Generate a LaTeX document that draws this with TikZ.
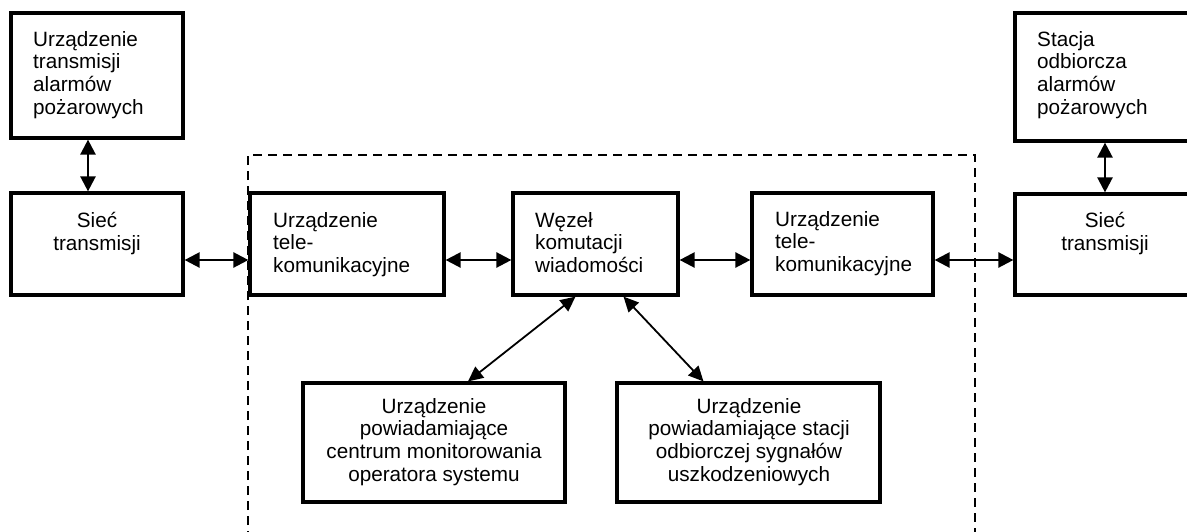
\documentclass[tikz,border=0pt]{standalone}
\usepackage{fontspec}
\setmainfont{Liberation Sans}
\usetikzlibrary{arrows.meta}
\begin{document}
\begin{tikzpicture}[x=1pt,y=-1pt,
  box/.style={draw, line width=3.2pt, inner sep=0pt},
  txt/.style={inner sep=0pt, font=\fontsize{20.7}{22.7}\selectfont},
  ltxt/.style={txt, anchor=north west, align=left},
  ctxt/.style={txt, anchor=north, align=center},
  arr/.style={line width=2.4pt, {Triangle[length=15pt,width=15pt]}-{Triangle[length=15pt,width=15pt]}},
  darr/.style={line width=1.8pt, {Triangle[length=15pt,width=14pt]}-{Triangle[length=15pt,width=14pt]}},
  frame/.style={line width=2pt, dash pattern=on 9pt off 6pt}]
\useasboundingbox (0,0) rectangle (1187,531);
\clip (0,0) rectangle (1187,531);

% boxes
\node[box, minimum width=172pt, minimum height=125pt] (A)  at (97,75.5) {};
\node[box, minimum width=172pt, minimum height=102pt] (SL) at (97,244) {};
\node[box, minimum width=194pt, minimum height=102pt] (T1) at (347,244) {};
\node[box, minimum width=165pt, minimum height=102pt] (W)  at (595.5,244) {};
\node[box, minimum width=181pt, minimum height=102pt] (T2) at (842.5,244) {};
\node[box, minimum width=182pt, minimum height=101pt] (SR) at (1106,244.5) {};
\node[box, minimum width=182pt, minimum height=128pt] (S)  at (1106,77) {};
\node[box, minimum width=262pt, minimum height=119pt] (B1) at (434,442.5) {};
\node[box, minimum width=263pt, minimum height=119pt] (B2) at (748.5,442.5) {};

% dashed frame
\draw[frame] (248,540) -- (248,155) -- (975,155) -- (975,540);

% texts
\node[ltxt] (tA)  at (33,31)   {Urządzenie\\transmisji\\alarmów\\pożarowych};
\node[ctxt] (tSL) at (97,212)  {Sieć\\transmisji};
\node[ltxt] (tT1) at (273,212) {Urządzenie\\tele-\\komunikacyjne};
\node[ltxt] (tW)  at (535,212) {Węzeł\\komutacji\\wiadomości};
\node[ltxt] (tT2) at (775,211) {Urządzenie\\tele-\\komunikacyjne};
\node[ltxt] (tS)  at (1037,31) {Stacja\\odbiorcza\\alarmów\\pożarowych};
\node[ctxt] (tSR) at (1105,212) {Sieć\\transmisji};
\node[ctxt] (tB1) at (434,398) {Urządzenie\\powiadamiające\\centrum monitorowania\\operatora systemu};
\node[ctxt] (tB2) at (749,398) {Urządzenie\\powiadamiające stacji\\odbiorczej sygnałów\\uszkodzeniowych};

% connectors
\draw[arr] ([xshift=-9pt]A.south) -- ([xshift=-9pt]SL.north);
\draw[arr] ([xshift=-1pt]S.south) -- ([xshift=-1pt]SR.north);
\draw[arr] ([yshift=-16pt]SL.east) -- ([yshift=-16pt]T1.west);
\draw[arr] ([yshift=-16pt]T1.east) -- ([yshift=-16pt]W.west);
\draw[arr] ([yshift=-16pt]W.east) -- ([yshift=-16pt]T2.west);
\draw[arr] ([yshift=-16pt]T2.east) -- ([yshift=-16pt]T2.east -| SR.west);
\draw[darr] ([xshift=-20pt]W.south) -- ([xshift=34pt]B1.north);
\draw[darr] ([xshift=28pt]W.south) -- ([xshift=-45pt]B2.north);
\end{tikzpicture}
\end{document}
